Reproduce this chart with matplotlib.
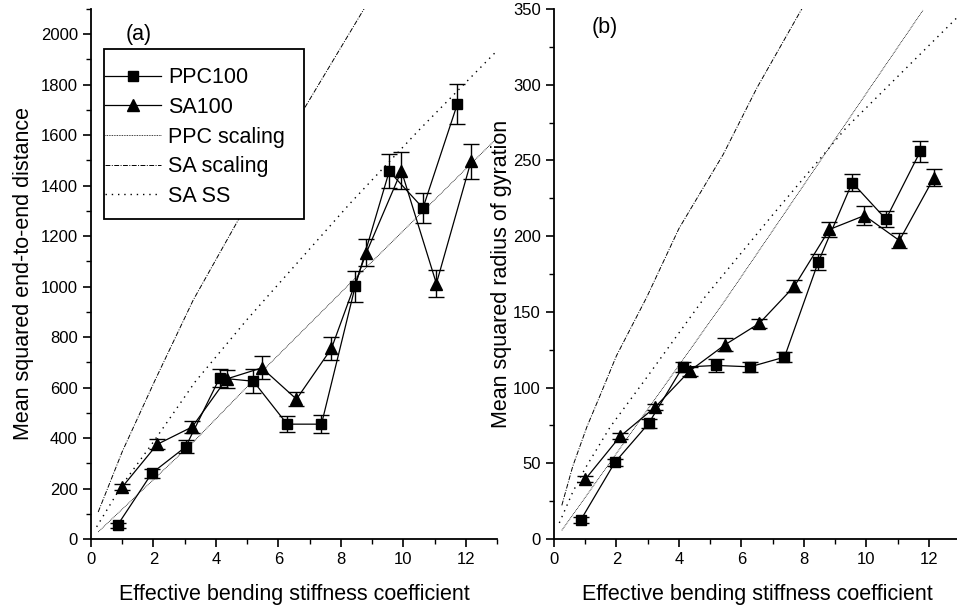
import numpy as np
import matplotlib
matplotlib.use("Agg")
import matplotlib.pyplot as plt
from matplotlib.patches import Rectangle

plt.rcParams['font.family'] = ['Liberation Sans', 'DejaVu Sans']

# stiffness values
x_ppc = [0.85, 1.95, 3.03, 4.12, 5.2, 6.28, 7.38, 8.46, 9.55, 10.63, 11.73]
x_sa = [1.0, 2.12, 3.24, 4.34, 5.47, 6.58, 7.70, 8.82, 9.94, 11.06, 12.17]

# (a) end-to-end distance
r2_ppc = [55, 261, 365, 638, 625, 455, 455, 1001, 1457, 1311, 1723]
r2_ppc_err = [10, 18, 26, 34, 47, 32, 35, 61, 67, 58, 80]
r2_sa = [206, 375, 444, 634, 678, 554, 755, 1135, 1459, 1012, 1497]
r2_sa_err = [13, 20, 23, 35, 46, 29, 45, 55, 73, 52, 69]

r2_ppc_sc_x = [0.23, 3.33, 5.62, 8.29, 12.93]
r2_ppc_sc_y = [28, 391, 682, 1012, 1580]
r2_sa_sc_x = [0.23, 1.0, 2.05, 3.27, 4.71, 6.85, 8.77]
r2_sa_sc_y = [107, 346, 629, 946, 1263, 1710, 2106]
r2_ss_x = [0.18, 1.0, 2.0, 3.33, 5.0, 8.29, 10.5, 12.98]
r2_ss_y = [48, 215, 385, 622, 870, 1329, 1620, 1932]

# (b) radius of gyration
rg_ppc = [12.3, 50.6, 76.3, 113.5, 114.6, 113.7, 120.1, 182.8, 235.4, 211.2, 256]
rg_ppc_err = [2, 2.5, 2.8, 3.5, 4, 3.3, 3.4, 5.4, 5.4, 5.2, 7]
rg_sa = [39.4, 67.8, 87.1, 110.9, 128.2, 142.5, 167, 204.4, 213.6, 197.1, 238.7]
rg_sa_err = [2, 2, 2, 3, 4.3, 3, 4, 5, 6.4, 5, 5.4]

rg_ppc_sc_x = [0.25, 5.55, 11.82]
rg_ppc_sc_y = [5.7, 159.7, 349.3]
rg_sa_sc_x = [0.25, 0.6, 1.05, 1.5, 2.0, 2.97, 4.0, 5.42, 6.5, 7.95]
rg_sa_sc_y = [22.2, 48, 73.9, 96, 121, 159.7, 205, 254, 298, 350.6]
rg_ss_x = [0.17, 0.6, 1.0, 1.8, 2.9, 4.83, 7.0, 9.37, 12.89]
rg_ss_y = [10.6, 31, 46.7, 74, 104.7, 159.7, 214, 271.9, 344]

fig = plt.figure(figsize=(9.57, 6.12), dpi=100)
ax1 = fig.add_axes([0.0951, 0.1193, 0.4242, 0.866])
ax2 = fig.add_axes([0.5789, 0.1193, 0.4242, 0.866])


def panel(ax, yp, ype, ys, yse, ppc_sc, sa_sc, ss, ymax, ymaj, ymin, ylab, lpad, tag, tagpos):
    ax.errorbar(x_ppc, yp, yerr=ype, fmt='none', ecolor='k', capsize=5.5,
                elinewidth=1.0, capthick=1.0)
    ax.errorbar(x_sa, ys, yerr=yse, fmt='none', ecolor='k', capsize=5.5,
                elinewidth=1.0, capthick=1.0)
    ax.plot(x_ppc, yp, color='k', lw=0.9, marker='s', ms=7.5, label='PPC100')
    ax.plot(x_sa, ys, color='k', lw=0.9, marker='^', ms=8.5, label='SA100')
    ax.plot(ppc_sc[0], ppc_sc[1], color='k', lw=0.6, ls=(0, (1, 1)), label='PPC scaling')
    ax.plot(sa_sc[0], sa_sc[1], color='k', lw=0.7, ls=(0, (5, 1.5, 1, 1.5)), label='SA scaling')
    ax.plot(ss[0], ss[1], color='k', lw=1.0, ls=(0, (1, 3.5)), label='SA SS')
    ax.set_xlim(0, 13)
    ax.set_ylim(0, ymax)
    ax.set_xticks(np.arange(0, 13, 2))
    ax.set_xticks(np.arange(0, 14, 1), minor=True)
    ax.set_yticks(np.arange(0, ymax + 1, ymaj))
    ax.set_yticks(np.arange(0, ymax + 1, ymin), minor=True)
    for s in ['top', 'right']:
        ax.spines[s].set_visible(False)
    for s in ['left', 'bottom']:
        ax.spines[s].set_linewidth(1.3)
    ax.tick_params(which='major', length=6, width=1.2, labelsize=12, direction='out')
    ax.tick_params(which='minor', length=3.5, width=1.0, direction='out')
    ax.set_xlabel('Effective bending stiffness coefficient', fontsize=15.5, labelpad=12)
    ax.set_ylabel(ylab, fontsize=15.5, labelpad=lpad)
    ax.text(tagpos[0], tagpos[1], tag, fontsize=15.5, va='center')


panel(ax1, r2_ppc, r2_ppc_err, r2_sa, r2_sa_err,
      (r2_ppc_sc_x, r2_ppc_sc_y), (r2_sa_sc_x, r2_sa_sc_y), (r2_ss_x, r2_ss_y),
      2100, 200, 100, 'Mean squared end-to-end distance', 5, '(a)', (1.1, 2000))
panel(ax2, rg_ppc, rg_ppc_err, rg_sa, rg_sa_err,
      (rg_ppc_sc_x, rg_ppc_sc_y), (rg_sa_sc_x, rg_sa_sc_y), (rg_ss_x, rg_ss_y),
      350, 50, 25, 'Mean squared radius of gyration', 1, '(b)', (1.2, 338))

# legend box drawn separately, legend itself without frame
box = Rectangle((0.032, 0.604), 0.493, 0.3205, transform=ax1.transAxes,
                facecolor='white', edgecolor='k', lw=1.3, zorder=4)
ax1.add_patch(box)
leg = ax1.legend(loc='upper left', bbox_to_anchor=(0.035, 0.890), borderaxespad=0,
                 fontsize=15.5, numpoints=1, handlelength=2.6, handletextpad=0.33,
                 labelspacing=0.4, borderpad=0, frameon=False)
leg.set_zorder(5)

plt.savefig('out.png', dpi=100)
